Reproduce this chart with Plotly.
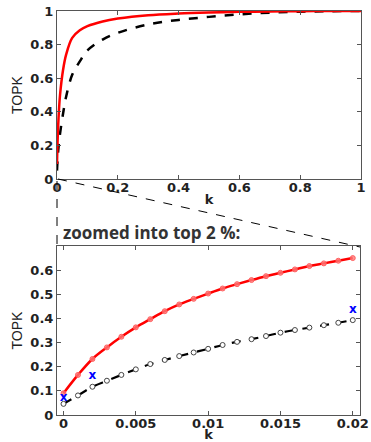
import plotly.graph_objects as go

# ---- data: full range (top panel) ----
k_top = [0, 0.002, 0.005, 0.01, 0.02, 0.03, 0.05, 0.075, 0.1, 0.15, 0.2, 0.3, 0.4, 0.5, 0.6, 0.7, 0.8, 0.9, 1.0]
red_top = [0.09, 0.23, 0.36, 0.50, 0.65, 0.74, 0.84, 0.885, 0.91, 0.938, 0.955, 0.975, 0.985, 0.991, 0.995, 0.997, 0.999, 1.0, 1.0]
black_top = [0.05, 0.12, 0.19, 0.27, 0.39, 0.49, 0.62, 0.70, 0.765, 0.83, 0.87, 0.92, 0.947, 0.965, 0.98, 0.99, 0.996, 0.999, 1.0]

# ---- data: zoomed top 2 % (bottom panel) ----
k_zoom = [0, 0.001, 0.002, 0.003, 0.004, 0.005, 0.006, 0.007, 0.008, 0.009, 0.010,
          0.011, 0.012, 0.013, 0.014, 0.015, 0.016, 0.017, 0.018, 0.019, 0.020]
red_zoom = [0.09, 0.166, 0.232, 0.28, 0.324, 0.363, 0.397, 0.43, 0.458, 0.481, 0.503,
            0.524, 0.542, 0.559, 0.575, 0.589, 0.603, 0.617, 0.628, 0.639, 0.65]
black_zoom = [0.046, 0.081, 0.117, 0.142, 0.166, 0.189, 0.211, 0.228, 0.244, 0.259, 0.274,
              0.29, 0.303, 0.314, 0.327, 0.341, 0.352, 0.362, 0.372, 0.382, 0.393]
k_x = [0, 0.002, 0.02]
x_vals = [0.072, 0.162, 0.434]

top_xticks = [0, 0.2, 0.4, 0.6, 0.8, 1]
top_xtext = ["0", "0.2", "0.4", "0.6", "0.8", "1"]
top_yticks = [0, 0.2, 0.4, 0.6, 0.8, 1]
top_ytext = ["0", "0.2", "0.4", "0.6", "0.8", "1"]
bot_xticks = [0, 0.005, 0.01, 0.015, 0.02]
bot_xtext = ["0", "0.005", "0.01", "0.015", "0.02"]
bot_yticks = [0, 0.1, 0.2, 0.3, 0.4, 0.5, 0.6]
bot_ytext = ["0", "0.1", "0.2", "0.3", "0.4", "0.5", "0.6"]

W, H = 371, 442
def px(x): return x / W
def py(y): return 1 - y / H

fig = go.Figure()

fig.add_trace(go.Scatter(x=k_top, y=black_top, mode="lines", xaxis="x", yaxis="y",
                         line=dict(color="black", width=2.5, dash="dash", shape="spline"),
                         showlegend=False, hoverinfo="skip"))
fig.add_trace(go.Scatter(x=k_top, y=red_top, mode="lines", xaxis="x", yaxis="y",
                         line=dict(color="red", width=2.5, shape="spline"),
                         showlegend=False, hoverinfo="skip"))

fig.add_trace(go.Scatter(x=k_zoom, y=black_zoom, mode="lines+markers", xaxis="x2", yaxis="y2",
                         line=dict(color="black", width=2.2, dash="dash", shape="spline"),
                         marker=dict(symbol="circle", size=5, color="white",
                                     line=dict(color="#444", width=1)),
                         showlegend=False, hoverinfo="skip"))
fig.add_trace(go.Scatter(x=k_zoom, y=red_zoom, mode="lines+markers", xaxis="x2", yaxis="y2",
                         line=dict(color="red", width=2.5, shape="spline"),
                         marker=dict(symbol="circle", size=5, color="rgba(255,120,120,0.8)",
                                     line=dict(color="rgba(255,90,90,0.9)", width=1)),
                         showlegend=False, hoverinfo="skip"))
fig.add_trace(go.Scatter(x=k_x, y=x_vals, mode="text", xaxis="x2", yaxis="y2",
                         text=["x", "x", "x"],
                         textfont=dict(family="DejaVu Sans", size=12, color="blue", weight="bold"),
                         showlegend=False, hoverinfo="skip"))

tickfont = dict(family="DejaVu Sans", size=13, color="#222", weight="bold")
axis_common = dict(showline=True, mirror="ticks", linecolor="#555", linewidth=1,
                   ticks="inside", ticklen=4, tickcolor="#555", showgrid=False,
                   zeroline=False, tickfont=tickfont, automargin=False,
                   ticklabeloverflow="allow")
ktitle = dict(family="DejaVu Sans", size=13, color="#222", weight="bold")
ytitle = dict(family="Liberation Sans", size=14, color="#222")

fig.update_layout(
    width=W, height=H,
    margin=dict(l=0, r=0, t=0, b=0),
    paper_bgcolor="white", plot_bgcolor="white",
    xaxis=dict(domain=[px(57), px(361)], range=[0, 1], anchor="y",
               tickvals=top_xticks, ticktext=top_xtext, ticklabelstandoff=-4,
               title=dict(text="k", standoff=1, font=ktitle),
               **axis_common),
    yaxis=dict(domain=[py(179), py(11)], range=[0, 1], anchor="x",
               tickvals=top_yticks, ticktext=top_ytext,
               title=dict(text="TOPK", standoff=4, font=ytitle),
               **axis_common),
    xaxis2=dict(domain=[px(57), px(360)], range=[-0.00045, 0.0205], anchor="y2",
                tickvals=bot_xticks, ticktext=bot_xtext, ticklabelstandoff=-4,
                title=dict(text="k", standoff=3, font=ktitle),
                **axis_common),
    yaxis2=dict(domain=[py(415), py(246)], range=[0, 0.7], anchor="x2",
                tickvals=bot_yticks, ticktext=bot_ytext,
                title=dict(text="TOPK", standoff=4, font=ytitle),
                **axis_common),
    shapes=[
        dict(type="line", xref="paper", yref="paper", x0=px(57), y0=py(181), x1=px(57), y1=py(246),
             line=dict(color="black", width=1, dash="dash")),
        dict(type="line", xref="paper", yref="paper", x0=px(58), y0=py(179), x1=px(360), y1=py(247),
             line=dict(color="black", width=1, dash="dash")),
    ],
    annotations=[
        dict(text="zoomed into top 2 %:", xref="paper", yref="paper",
             x=px(61), y=py(232), xanchor="left", yanchor="middle", showarrow=False,
             font=dict(family="Open Sans", size=17, color="#333", weight="bold")),
    ],
)

fig.write_html("out.html", config={"displayModeBar": False},
               post_script="document.body.style.margin='0';document.body.style.overflow='hidden';")
